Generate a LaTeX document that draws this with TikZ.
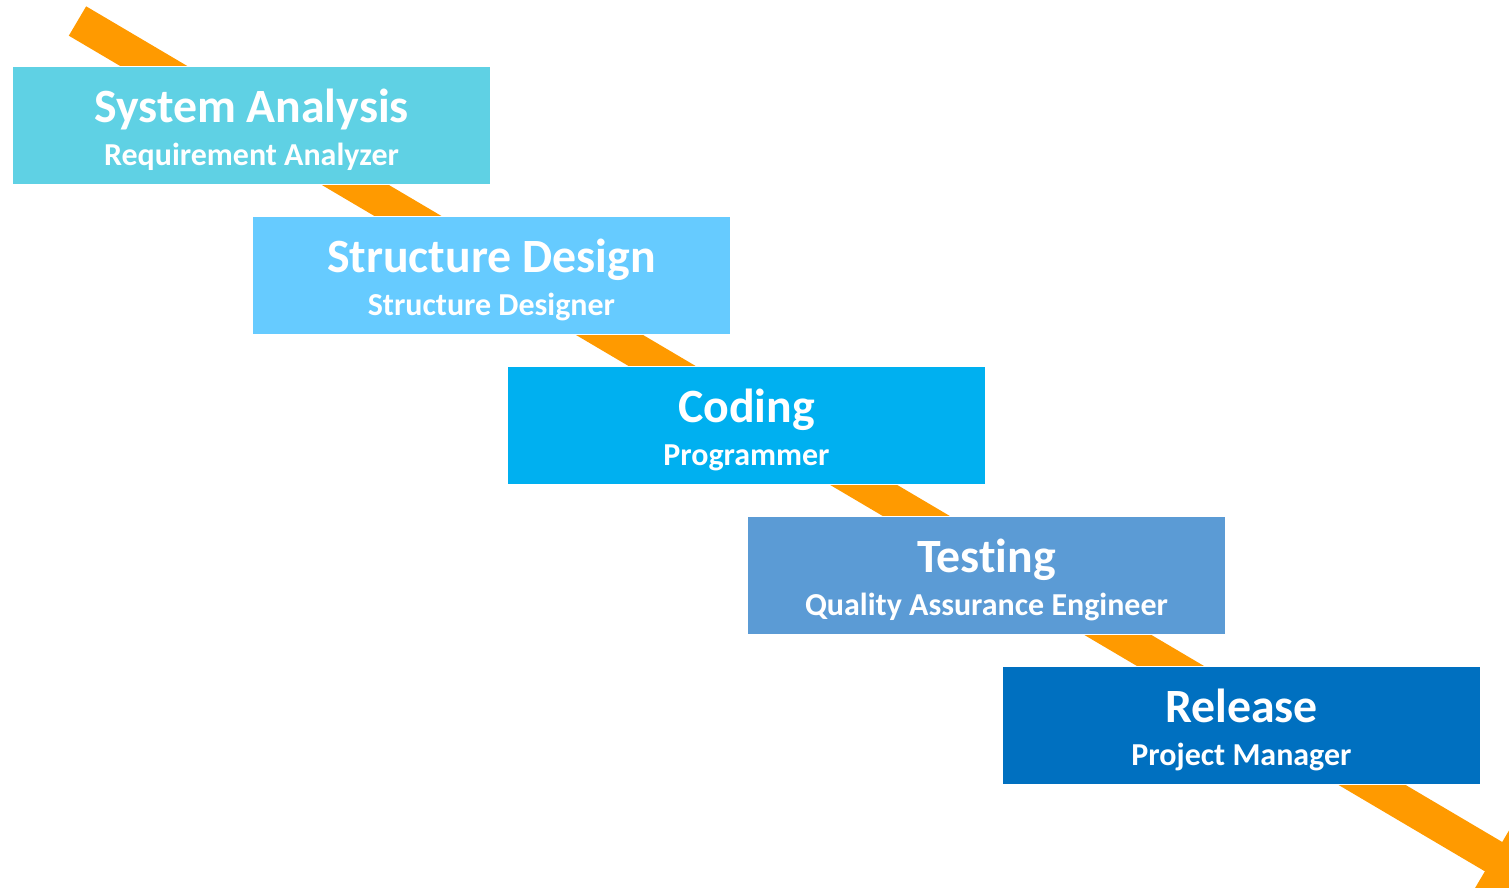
\documentclass[tikz,border=0pt]{standalone}
\usepackage{fontspec}
\setmainfont{Carlito}[Ligatures={NoCommon}]
\usetikzlibrary{arrows.meta,calc}
\definecolor{flow}{HTML}{FF9A00}
\definecolor{cA}{HTML}{5FD1E4}
\definecolor{cB}{HTML}{66CBFF}
\definecolor{cC}{HTML}{00B0F0}
\definecolor{cD}{HTML}{5B9BD5}
\definecolor{cE}{HTML}{0070C0}
\tikzset{
  stage/.style={draw=white, line width=0.6pt, minimum width=9.56cm, minimum height=2.36cm,
    inner sep=0pt, anchor=north west},
  ttl/.style={text=white, anchor=base, inner sep=0pt, font=\bfseries\fontsize{27.2}{30}\selectfont},
  sub/.style={text=white, anchor=base, inner sep=0pt, font=\bfseries\fontsize{18.2}{20}\selectfont},
  flowarrow/.style={draw=flow, line width=19.4pt, line cap=butt,
    -{Triangle[length=34pt, width=42pt]}}
}
\begin{document}
\begin{tikzpicture}[x=0.02cm, y=-0.02cm]
  \useasboundingbox (0,0) rectangle (1509,887);
  \clip (0,0) rectangle (1509,887);
  % the flow band running behind all stages
  \coordinate (flowstart) at (77.5,21);
  \coordinate (flowend) at (1545,887);
  \draw[flowarrow] (flowstart) -- (flowend);
  % stages
  \node[stage, fill=cA] (s1) at (12,66) {};
  \node[stage, fill=cB] (s2) at (252,216) {};
  \node[stage, fill=cC] (s3) at (507,366) {};
  \node[stage, fill=cD] (s4) at (747,516) {};
  \node[stage, fill=cE] (s5) at (1002,666) {};
  % titles and roles
  \node[ttl] (t1) at ($(s1.north)+(0,56)$) {System Analysis};
  \node[sub] (r1) at ($(s1.north)+(0,99)$) {Requirement Analyzer};
  \node[ttl] (t2) at ($(s2.north)+(0,56)$) {Structure Design};
  \node[sub] (r2) at ($(s2.north)+(0,99)$) {Structure Designer};
  \node[ttl] (t3) at ($(s3.north)+(0,56)$) {Coding};
  \node[sub] (r3) at ($(s3.north)+(0,99)$) {Programmer};
  \node[ttl] (t4) at ($(s4.north)+(0,56)$) {Testing};
  \node[sub] (r4) at ($(s4.north)+(0,99)$) {Quality Assurance Engineer};
  \node[ttl] (t5) at ($(s5.north)+(0,56)$) {Release};
  \node[sub] (r5) at ($(s5.north)+(0,99)$) {Project Manager};
\end{tikzpicture}
\end{document}
